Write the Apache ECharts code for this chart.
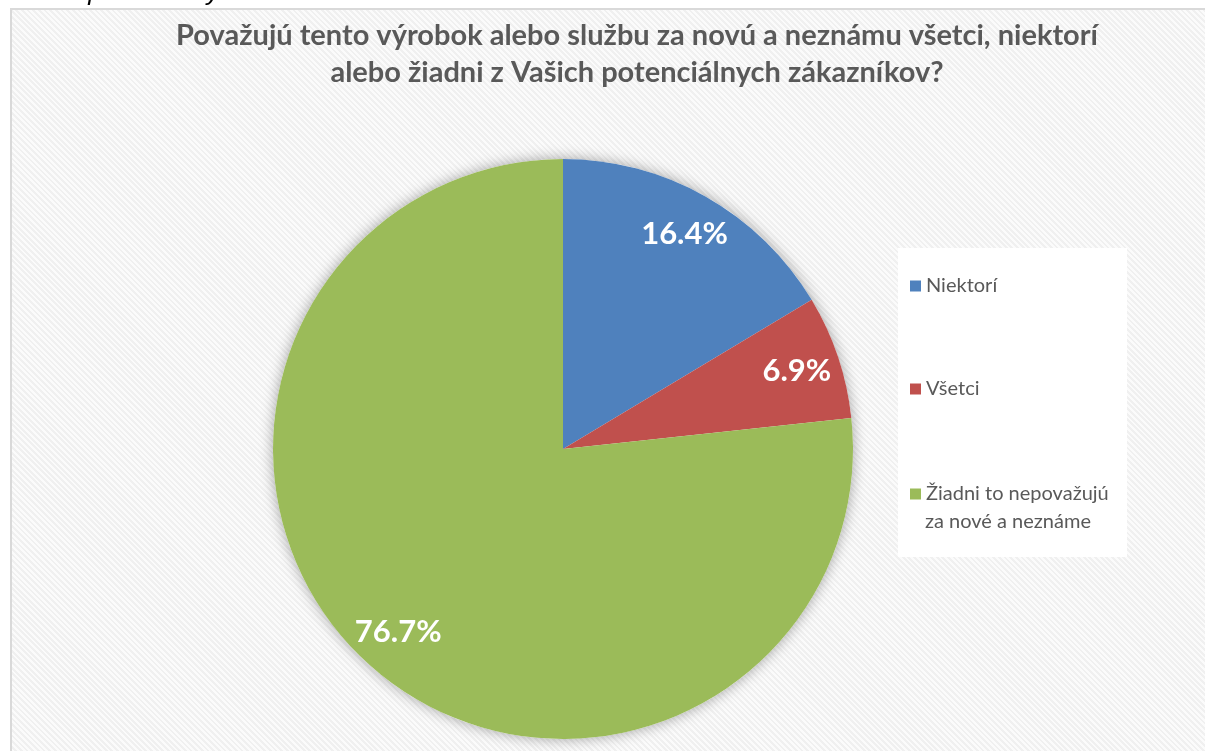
<!DOCTYPE html>
<html>
<head>
<meta charset="utf-8">
<script src="https://cdn.jsdelivr.net/npm/echarts@6/dist/echarts.min.js"></script>
<style>
html,body{margin:0;padding:0;background:#fff;}
#wrap{position:relative;width:1205px;height:751px;overflow:hidden;background:#fff;}
#frame{position:absolute;left:10px;top:8px;width:1210px;height:760px;box-sizing:border-box;
 border-left:2px solid #d9d9d9;border-top:2px solid #d9d9d9;
 background:repeating-linear-gradient(45deg,#fbfbfb 0px,#fbfbfb 2px,#f0f0f0 2px,#f0f0f0 4px);}
#chart{position:absolute;left:0;top:0;width:1205px;height:751px;}
</style>
</head>
<body>
<div id="wrap"><div id="frame"></div><div id="chart"></div></div>
<script>
const categories = ['Niektorí', 'Všetci', 'Žiadni to nepovažujú za nové a neznáme'];
const values = [16.4, 6.9, 76.7];
const colors = ['#4F81BD', '#C0504D', '#9BBB59'];
const titleText = 'Považujú tento výrobok alebo službu za novú a neznámu všetci, niektorí\nalebo žiadni z Vašich potenciálnych zákazníkov?';
const cutText = 'Vašich potenciálnych zákazníkov?';

const chart = echarts.init(document.getElementById('chart'), null, {renderer: 'canvas'});
const data = categories.map((c, i) => ({name: c, value: values[i], itemStyle: {color: colors[i]}}));
const center = [563, 449];
const R = 290;
const legendTops = [271, 374, 479];
const legendLabel = ['Niektorí', 'Všetci', 'Žiadni to nepovažujú'];

chart.setOption({
  backgroundColor: 'transparent',
  animation: false,
  graphic: [
    {type: 'text', x: 4, y: 6, style: {text: cutText, verticalAlign: 'bottom', font: 'italic 26px "Liberation Sans", Arial, sans-serif', fill: '#000'}},
    {type: 'text', x: 637, y: 17, style: {text: titleText, textAlign: 'center', font: 'bold 29px Lato, sans-serif', fill: '#595959', lineHeight: 37}},
    {type: 'rect', shape: {x: 898, y: 248, width: 229, height: 309}, style: {fill: '#ffffff'}, z: -1},
    {type: 'text', x: 925, y: 512, style: {text: 'za nové a neznáme', font: '20px Lato, sans-serif', fill: '#595959'}}
  ],
  legend: categories.map((c, i) => ({
    data: [c], orient: 'vertical', left: 905, top: legendTops[i],
    icon: 'rect', itemWidth: 11, itemHeight: 11, itemGap: 5,
    formatter: () => legendLabel[i],
    textStyle: {fontFamily: 'Lato, sans-serif', fontSize: 20, color: '#595959'}
  })),
  series: [
    {
      type: 'pie', name: 'shadow', center: center, radius: R, silent: true, z: 1,
      label: {show: false}, labelLine: {show: false},
      data: [{name: '_bg', value: 1, itemStyle: {color: '#ffffff', shadowBlur: 14, shadowColor: 'rgba(0,0,0,0.35)'}}]
    },
    {
      type: 'pie', name: 'main', center: center, radius: R, startAngle: 90, clockwise: true, z: 2,
      label: {show: false}, labelLine: {show: false},
      itemStyle: {borderWidth: 0},
      data: data
    },
    {
      type: 'pie', name: 'labels', center: center, radius: [R * 0.68, R], startAngle: 90, clockwise: true, z: 3, silent: true,
      itemStyle: {color: 'rgba(0,0,0,0)'},
      label: {show: true, position: 'inside', formatter: p => p.value.toFixed(1) + '%',
        fontFamily: 'Lato, sans-serif', fontWeight: 'bold', fontSize: 31, color: '#ffffff'},
      labelLine: {show: false},
      data: categories.map((c, i) => ({name: c, value: values[i]}))
    }
  ]
});
</script>
</body>
</html>
